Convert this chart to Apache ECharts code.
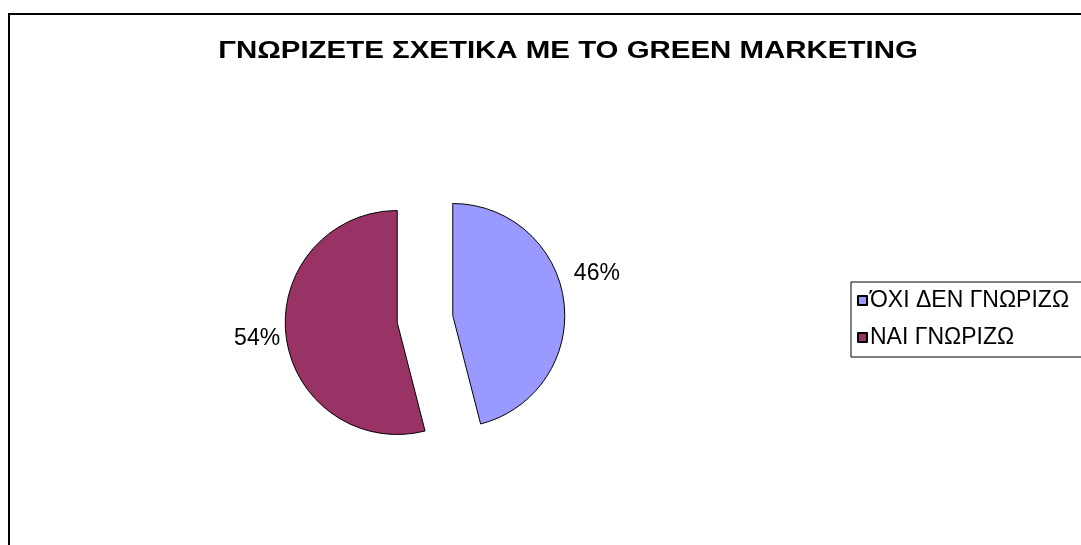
<!DOCTYPE html>
<html><head><meta charset="utf-8">
<script src="https://cdn.jsdelivr.net/npm/echarts@6/dist/echarts.min.js"></script>
<style>html,body{margin:0;padding:0;background:#fff}#c{width:1081px;height:545px}</style>
</head><body><div id="c"></div>
<script>
const titleText = 'ΓΝΩΡΙΖΕΤΕ ΣΧΕΤΙΚΑ ΜΕ ΤΟ GREEN MARKETING';
const categories = ['ΌΧΙ ΔΕΝ ΓΝΩΡΙΖΩ', 'ΝΑΙ ΓΝΩΡΙΖΩ'];
const values = [46, 54];
const colors = ['#9999FF', '#993366'];
const labelShift = [[2, -27], [2, 2]];

const chart = echarts.init(document.getElementById('c'));
const font = 'Liberation Sans, Arial, sans-serif';
chart.setOption({
  backgroundColor: '#fff',
  animation: false,
  textStyle: { fontFamily: font },
  graphic: [{
    type: 'rect', shape: { x: 9, y: 14, width: 1200, height: 700 },
    style: { fill: 'none', stroke: '#000', lineWidth: 2 }, z: -1
  }, {
    type: 'text', x: 568, y: 52, scaleX: 1.28,
    style: { text: titleText, fontFamily: font, fontWeight: 'bold', fontSize: 23, fill: '#000',
             textAlign: 'center', textVerticalAlign: 'middle' }
  }],
  legend: {
    orient: 'vertical', left: 851, top: 282,
    data: categories,
    icon: 'rect', itemWidth: 9, itemHeight: 9, itemGap: 14,
    padding: [7, 60, 8, 6],
    borderColor: '#000', borderWidth: 1,
    textStyle: { fontFamily: font, fontSize: 23, color: '#000', padding: [0, 0, 0, -2] }
  },
  series: [{
    type: 'pie',
    center: [425, 319], radius: 112,
    startAngle: 90, clockwise: true,
    selectedMode: 'multiple', selectedOffset: 28,
    label: { show: true, position: 'outside', formatter: '{d}%', fontFamily: font, fontSize: 23, color: '#000' },
    labelLine: { show: false, length: 3, length2: 0 },
    labelLayout: (p) => ({ dx: labelShift[p.dataIndex][0], dy: labelShift[p.dataIndex][1] }),
    emphasis: { disabled: true },
    itemStyle: { borderColor: '#000', borderWidth: 1 },
    data: categories.map((n, i) => ({ name: n, value: values[i], selected: true, itemStyle: { color: colors[i] } }))
  }]
});
</script></body></html>
